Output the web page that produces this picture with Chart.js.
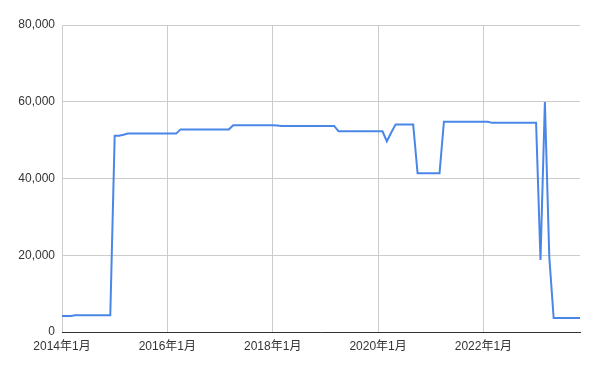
<!DOCTYPE html>
<html>
<head>
<meta charset="utf-8">
<script src="https://cdn.jsdelivr.net/npm/chart.js@4"></script>
<style>
  html, body { margin: 0; padding: 0; background: #fff; }
  #wrap { width: 600px; height: 371px; }
</style>
</head>
<body>
<div id="wrap"><canvas id="chart" width="600" height="371"></canvas></div>
<script>
// monthly values, 2014年1月 .. 2023年11月
const startYear = 2014;
const monthCount = 119;

const months = [];
for (let i = 0; i < monthCount; i++) {
    const y = startYear + Math.floor(i / 12);
    const m = (i % 12) + 1;
    months.push(`${y}年${m}月`);
}

// values, one per month
const values2014 = [4170, 4170, 4170, 4350, 4350, 4350, 4350, 4350, 4350, 4350, 4350, 4350];
const values2015 = [51150, 51150, 51400, 51700, 51700, 51700, 51700, 51700, 51700, 51700, 51700, 51700];
const values2016 = [51700, 51700, 51700, 52800, 52800, 52800, 52800, 52800, 52800, 52800, 52800, 52800];
const values2017 = [52800, 52800, 52800, 53900, 53900, 53900, 53900, 53900, 53900, 53900, 53900, 53900];
const values2018 = [53900, 53800, 53700, 53700, 53700, 53700, 53700, 53700, 53700, 53700, 53700, 53700];
const values2019 = [53700, 53700, 53700, 52300, 52300, 52300, 52300, 52300, 52300, 52300, 52300, 52300];
const values2020 = [52300, 52300, 49700, 52000, 54100, 54100, 54100, 54100, 54100, 41350, 41350, 41350];
const values2021 = [41350, 41350, 41350, 54800, 54800, 54800, 54800, 54800, 54800, 54800, 54800, 54800];
const values2022 = [54800, 54800, 54500, 54500, 54500, 54500, 54500, 54500, 54500, 54500, 54500, 54500];
const values2023 = [54500, 18760, 59930, 19620, 3650, 3650, 3650, 3650, 3650, 3650, 3650];

const values = [].concat(values2014, values2015, values2016, values2017, values2018,
    values2019, values2020, values2021, values2022, values2023);

const yTicks = [0, 20000, 40000, 60000, 80000];
const labelEvery = 24;

const fontFamily = "'Liberation Sans', Arial, 'Noto Sans CJK JP', sans-serif";

new Chart(document.getElementById('chart'), {
    type: 'line',
    data: {
        labels: months,
        datasets: [{
            data: values,
            borderColor: '#4a86e8',
            borderWidth: 2,
            pointRadius: 0,
            tension: 0,
            fill: false
        }]
    },
    options: {
        responsive: false,
        animation: false,
        layout: { padding: { top: 25, right: 20, left: 0, bottom: 0 } },
        plugins: {
            legend: { display: false },
            tooltip: { enabled: false }
        },
        scales: {
            x: {
                offset: false,
                grid: { color: '#cccccc', drawTicks: false },
                border: { color: '#333333', width: 1 },
                ticks: {
                    autoSkip: false,
                    maxRotation: 0,
                    padding: 7,
                    color: '#333333',
                    font: { family: fontFamily, size: 12 },
                    callback: function (val, index) {
                        return index % labelEvery === 0 ? this.getLabelForValue(val) : null;
                    }
                },
                afterFit: (scale) => { scale.height = 39; }
            },
            y: {
                min: 0,
                max: 80000,
                afterBuildTicks: (scale) => { scale.ticks = yTicks.map(v => ({ value: v })); },
                grid: { color: '#cccccc', drawTicks: false },
                border: { display: false },
                ticks: {
                    padding: 7,
                    color: '#333333',
                    font: { family: fontFamily, size: 12 },
                    callback: (v) => v.toLocaleString('en-US')
                },
                afterFit: (scale) => { scale.width = 62; }
            }
        }
    }
});
</script>
</body>
</html>
